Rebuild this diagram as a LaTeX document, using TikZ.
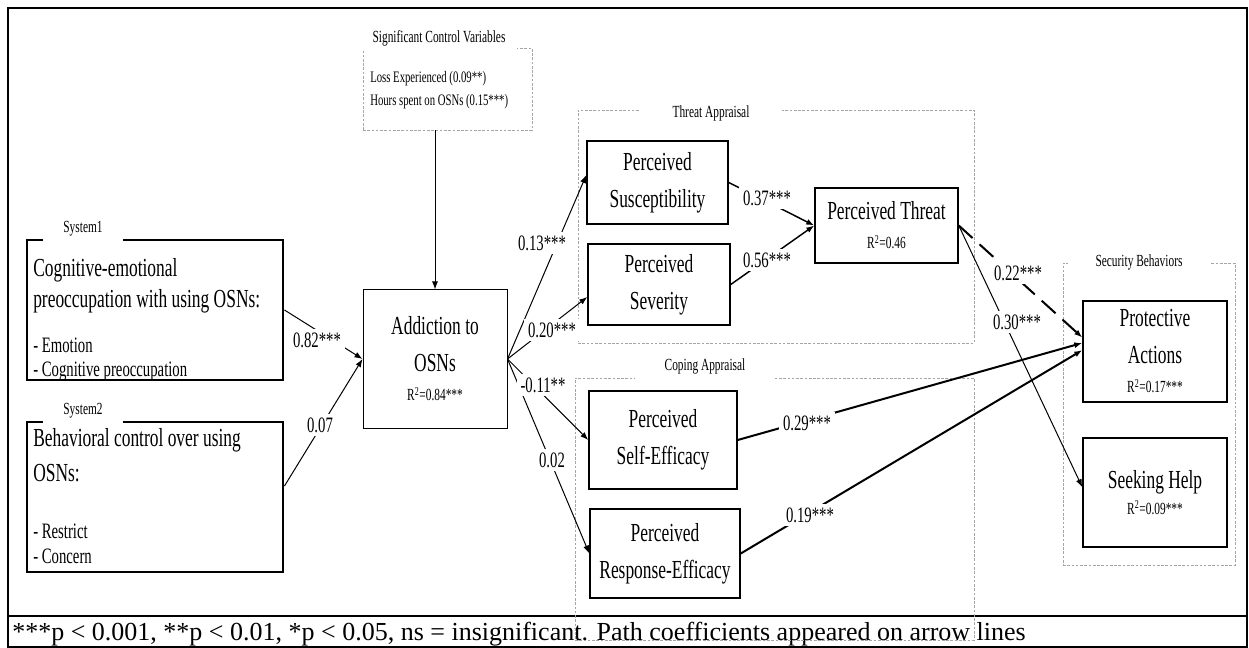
\documentclass[tikz,border=0pt]{standalone}
\usepackage{fontspec}
\setmainfont{Liberation Serif}
\newfontfamily\narrowserif{Liberation Serif}[FakeStretch=0.67]
\usepackage{xcolor}
\usepackage{tikz}
\usetikzlibrary{arrows}
\usetikzlibrary{arrows.meta}
\definecolor{dashgray}{RGB}{165,165,165}
\newcommand{\bigtxt}{\narrowserif\fontsize{19.5}{27.75}\selectfont}
\newcommand{\midtxt}{\narrowserif\fontsize{16.5}{19}\selectfont}
\newcommand{\smltxt}{\narrowserif\fontsize{12.75}{16}\selectfont}
\newcommand{\ctrltxt}{\narrowserif\fontsize{12}{15}\selectfont}
\newcommand{\notetxt}{\rmfamily\fontsize{19.5}{22}\selectfont}

\begin{document}
\begin{tikzpicture}[x=0.75pt,y=-0.75pt]
    \tikzstyle{frame}=[line width=1.6pt]
    \tikzstyle{box}=[draw,rectangle,inner sep=0pt,line width=1.1pt,align=center,font=\bigtxt]
    \tikzstyle{sysbox}=[draw,rectangle,inner sep=0pt,line width=2.2pt]
    \tikzstyle{group}=[draw=dashgray,rectangle,inner sep=0pt,line width=0.6pt,dash pattern=on 2pt off 1.2pt]
    \tikzstyle{tag}=[fill=white,inner sep=0pt,minimum height=19.5pt,font=\smltxt]
    \tikzstyle{item}=[anchor=base west,inner sep=0pt]
    \tikzstyle{coef}=[fill=white,inner sep=3pt,font=\midtxt]
    \tikzstyle{arr}=[line width=0.75pt,-{Latex[length=6pt,width=4.5pt]}]
    \tikzstyle{mid}=[line width=1.1pt]
    \tikzstyle{heavy}=[line width=1.5pt]
    \useasboundingbox (0,0) rectangle (1249,648);
    % Draw the frame and the note row
    \draw[frame] (8,8) rectangle (1247,647);
    \draw[frame] (8,616) -- (1247,616);
    \node[anchor=base west,inner sep=0pt,font=\notetxt] (note) at (12,640)
        {***p < 0.001, **p < 0.01, *p < 0.05, ns = insignificant. Path coefficients appeared on arrow lines};
    % Draw the groups
    \node[group,minimum width=126.75pt,minimum height=61.5pt] (ctrl) at (447.5,89) {};
    \node[group,minimum width=297pt,minimum height=174.75pt] (threat) at (776,226.5) {};
    \node[group,minimum width=299.25pt,minimum height=196.5pt] (coping) at (774.5,509) {};
    \node[group,minimum width=129pt,minimum height=226.5pt] (security) at (1149,414) {};
    \node[tag,minimum width=117pt] (ctrltag) at (439,38) {Significant Control Variables};
    \node[tag,minimum width=106.5pt] (threattag) at (711,113) {Threat Appraisal};
    \node[tag,minimum width=105pt] (copingtag) at (705,366) {Coping Appraisal};
    \node[tag,minimum width=106.5pt] (securitytag) at (1139,262) {Security Behaviors};
    \node[item,font=\ctrltxt] (loss) at (370,83) {Loss Experienced (0.09**)};
    \node[item,font=\ctrltxt] (hours) at (370,106) {Hours spent on OSNs (0.15***)};
    % Draw the two systems
    \node[sysbox,minimum width=192pt,minimum height=105pt] (sys1) at (155,310) {};
    \node[sysbox,minimum width=192pt,minimum height=112.5pt] (sys2) at (155,497) {};
    \node[tag,minimum width=60pt,minimum height=21pt] (sys1tag) at (83,229) {System1};
    \node[tag,minimum width=60pt,minimum height=21pt] (sys2tag) at (83,411) {System2};
    \node[item,font=\bigtxt] (sys1a) at (33,277) {Cognitive-emotional};
    \node[item,font=\bigtxt] (sys1b) at (33,308) {preoccupation with using OSNs:};
    \node[item,font=\midtxt] (sys1c) at (33,353) {- Emotion};
    \node[item,font=\midtxt] (sys1d) at (33,377) {- Cognitive preoccupation};
    \node[item,font=\bigtxt] (sys2a) at (33,446) {Behavioral control over using};
    \node[item,font=\bigtxt] (sys2b) at (33,481) {OSNs:};
    \node[item,font=\midtxt] (sys2c) at (33,538) {- Restrict};
    \node[item,font=\midtxt] (sys2d) at (33,563) {- Concern};
    % Draw the constructs
    \node[box,line width=0.75pt,minimum width=108pt,minimum height=103.5pt] (add) at (435,359)
        {Addiction to\\OSNs\\[-6pt]{\smltxt R\textsuperscript{2}=0.84***}};
    \node[box,minimum width=105.75pt,minimum height=62.25pt] (susc) at (657.5,182.5) {Perceived\\Susceptibility};
    \node[box,minimum width=106.5pt,minimum height=60.75pt] (sev) at (659,284.5) {Perceived\\Severity};
    \node[box,minimum width=111pt,minimum height=73.5pt] (self) at (663,440) {Perceived\\Self-Efficacy};
    \node[box,minimum width=112.5pt,minimum height=66.75pt] (resp) at (665,553.5) {Perceived\\Response-Efficacy};
    \node[box,minimum width=107.25pt,minimum height=56.25pt] (pt) at (886.5,225.5)
        {Perceived Threat\\[-6pt]{\smltxt R\textsuperscript{2}=0.46}};
    \node[box,minimum width=108pt,minimum height=75.75pt] (prot) at (1155,351.5)
        {Protective\\Actions\\[-6pt]{\smltxt R\textsuperscript{2}=0.17***}};
    \node[box,minimum width=108pt,minimum height=81.75pt] (seek) at (1155,492.5)
        {Seeking Help\\[-8pt]{\smltxt R\textsuperscript{2}=0.09***}};
    % Draw the paths
    \draw[arr] (ctrl.south -| add.north) -- (add.north);
    \draw[arr] (sys1.east) -- (add.west);
    \draw[arr] ([yshift=8.25pt]sys2.east) -- (add.west);
    \draw[arr] (add.east) -- ([yshift=5.6pt]susc.west);
    \draw[arr] (add.east) -- ([yshift=-9.4pt]sev.west);
    \draw[arr] (add.east) -- (self.west);
    \draw[arr] (add.east) -- (resp.west);
    \draw[arr,mid] (susc.east) -- (pt.west);
    \draw[arr,mid] (sev.east) -- (pt.west);
    \draw[arr,heavy,dash pattern=on 14pt off 7pt] (pt.east) -- ([yshift=10.5pt]prot.west);
    \draw[arr] (pt.east) -- ([yshift=4pt]seek.west);
    \draw[arr,heavy] (self.east) -- ([yshift=6.4pt]prot.west);
    \draw[arr,heavy] (resp.east) -- ([yshift=1pt]prot.west);
    % Path coefficients
    \node[coef] (c82) at (317,340) {0.82***};
    \node[coef] (c07) at (320,425) {0.07};
    \node[coef] (c13) at (542,243) {0.13***};
    \node[coef] (c20) at (552,330) {0.20***};
    \node[coef] (c11) at (543,385) {-0.11**};
    \node[coef] (c02) at (552,460) {0.02};
    \node[coef] (c37) at (767,198) {0.37***};
    \node[coef] (c56) at (767,260) {0.56***};
    \node[coef] (c22) at (1018,273) {0.22***};
    \node[coef] (c30) at (1017,322) {0.30***};
    \node[coef] (c29) at (807,423) {0.29***};
    \node[coef] (c19) at (810,515) {0.19***};
\end{tikzpicture}
\end{document}
